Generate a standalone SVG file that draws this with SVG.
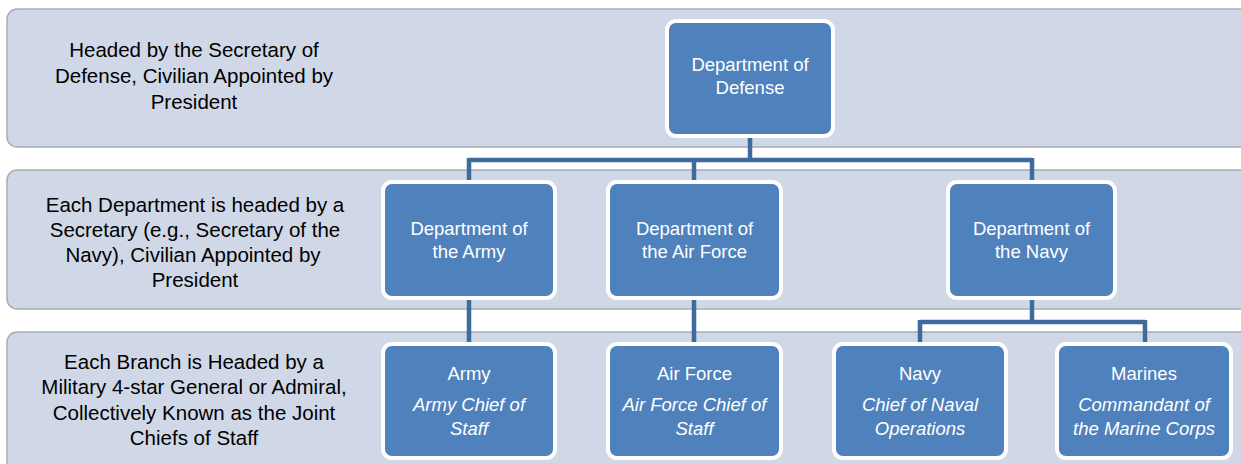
<svg xmlns="http://www.w3.org/2000/svg" width="1241" height="464" viewBox="0 0 1241 464">
<style>
.band{fill:#d0d8e8;stroke:#a8adb5;stroke-width:1.5}
.box{fill:#4f81bd;stroke:#ffffff;stroke-width:4}
.lbl{font-family:"Liberation Sans",Arial,sans-serif;font-size:20.5px;fill:#000;text-anchor:middle}
.nt{font-family:"Liberation Sans",Arial,sans-serif;font-size:18.5px;fill:#fff;text-anchor:middle}
.it{font-style:italic}
.conn{fill:none;stroke:#3f6a9c;stroke-width:4.5;stroke-linecap:butt;stroke-linejoin:miter}
</style>
<rect width="1241" height="464" fill="#fff"/>
<g id="bands">
<rect class="band" x="7" y="9" width="1260" height="138" rx="10"/>
<rect class="band" x="7" y="170" width="1260" height="139" rx="10"/>
<rect class="band" x="7" y="332" width="1260" height="140" rx="10"/>
</g>
<g id="level-labels">
<text class="lbl" x="194" y="57">Headed by the Secretary of</text>
<text class="lbl" x="194" y="83">Defense, Civilian Appointed by</text>
<text class="lbl" x="194" y="109">President</text>
<text class="lbl" x="195" y="212">Each Department is headed by a</text>
<text class="lbl" x="195" y="237">Secretary (e.g., Secretary of the</text>
<text class="lbl" x="193" y="262">Navy), Civilian Appointed by</text>
<text class="lbl" x="195" y="287">President</text>
<text class="lbl" x="194" y="369">Each Branch is Headed by a</text>
<text class="lbl" x="194" y="394">Military 4-star General or Admiral,</text>
<text class="lbl" x="194" y="420">Collectively Known as the Joint</text>
<text class="lbl" x="194" y="445">Chiefs of Staff</text>
</g>
<g id="connectors">
<path class="conn" d="M750,137 V160 M469,160 H1032 M469,158 V182 M694,160 V182 M1032,158 V182"/>
<path class="conn" d="M469,298 V344 M694,298 V344"/>
<path class="conn" d="M1032,298 V322 M920,322 H1145 M920,320 V344 M1145,320 V344"/>
</g>
<g id="dod">
<rect class="box" x="667" y="21" width="166" height="115" rx="9"/>
<text class="nt" x="750" y="71">Department of</text>
<text class="nt" x="750" y="94">Defense</text>
</g>
<g id="dept-army">
<rect class="box" x="383" y="182" width="172" height="116" rx="9"/>
<text class="nt" x="469" y="235">Department of</text>
<text class="nt" x="469" y="258">the Army</text>
</g>
<g id="dept-airforce">
<rect class="box" x="608" y="182" width="173" height="116" rx="9"/>
<text class="nt" x="694.5" y="235">Department of</text>
<text class="nt" x="694.5" y="258">the Air Force</text>
</g>
<g id="dept-navy">
<rect class="box" x="948" y="182" width="167" height="116" rx="9"/>
<text class="nt" x="1031.5" y="235">Department of</text>
<text class="nt" x="1031.5" y="258">the Navy</text>
</g>
<g id="army">
<rect class="box" x="383" y="344" width="172" height="114" rx="9"/>
<text class="nt" x="469" y="380">Army</text>
<text class="nt it" x="469" y="411">Army Chief of</text>
<text class="nt it" x="469" y="435">Staff</text>
</g>
<g id="airforce">
<rect class="box" x="608" y="344" width="173" height="114" rx="9"/>
<text class="nt" x="694.5" y="380">Air Force</text>
<text class="nt it" x="694.5" y="411">Air Force Chief of</text>
<text class="nt it" x="694.5" y="435">Staff</text>
</g>
<g id="navy">
<rect class="box" x="834" y="344" width="172" height="114" rx="9"/>
<text class="nt" x="920" y="380">Navy</text>
<text class="nt it" x="920" y="411">Chief of Naval</text>
<text class="nt it" x="920" y="435">Operations</text>
</g>
<g id="marines">
<rect class="box" x="1057" y="344" width="174" height="114" rx="9"/>
<text class="nt" x="1144" y="380">Marines</text>
<text class="nt it" x="1144" y="411">Commandant of</text>
<text class="nt it" x="1144" y="435">the Marine Corps</text>
</g>
</svg>
